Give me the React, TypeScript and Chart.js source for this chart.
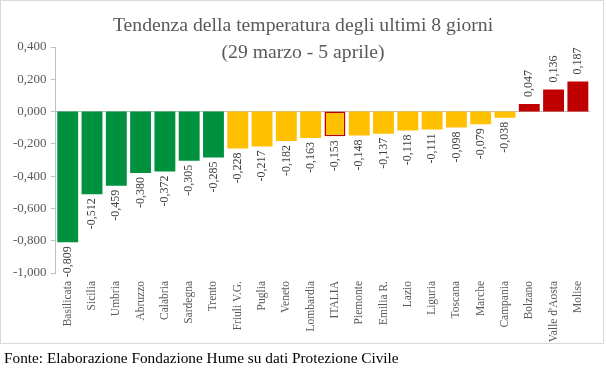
import React, { useEffect, useRef } from "react";
import { Chart, registerables } from "chart.js";

Chart.register(...registerables);

const categories = [
  "Basilicata", "Sicilia", "Umbria", "Abruzzo", "Calabria", "Sardegna", "Trento",
  "Friuli V.G.", "Puglia", "Veneto", "Lombardia", "ITALIA", "Piemonte", "Emilia R.",
  "Lazio", "Liguria", "Toscana", "Marche", "Campania", "Bolzano", "Valle d'Aosta", "Molise",
];
const values = [
  -0.809, -0.512, -0.459, -0.38, -0.372, -0.305, -0.285,
  -0.228, -0.217, -0.182, -0.163, -0.153, -0.148, -0.137,
  -0.118, -0.111, -0.098, -0.079, -0.038, 0.047, 0.136, 0.187,
];
const titleLines = ["Tendenza della temperatura degli ultimi 8 giorni", "(29 marzo - 5 aprile)"];
const sourceText = "Fonte: Elaborazione Fondazione Hume su dati Protezione Civile";
const highlighted = "ITALIA";
const yMin = -1.0;
const yMax = 0.4;
const yStep = 0.2;

const SERIF = "'Liberation Serif', 'Times New Roman', serif";
const GREEN = "#00913f";
const YELLOW = "#ffc000";
const RED = "#c00000";

function fmt(v: number): string {
  if (Math.abs(v) < 1e-9) v = 0;
  return v.toFixed(3).replace(".", ",");
}

function colorFor(v: number): string {
  if (v > 0) return RED;
  if (v < -0.25) return GREEN;
  return YELLOW;
}

const titlePlugin = {
  id: "titleOverlay",
  afterDraw(chart: any) {
    const ctx = chart.ctx;
    ctx.save();
    ctx.fillStyle = "#595959";
    ctx.font = `19.7px ${SERIF}`;
    ctx.textAlign = "center";
    ctx.textBaseline = "alphabetic";
    const cx = 302;
    ctx.fillText(titleLines[0], cx, 30);
    ctx.fillText(titleLines[1], cx, 57);
    ctx.restore();
  },
};

const valueLabelPlugin = {
  id: "valueLabels",
  afterDatasetsDraw(chart: any) {
    const ctx = chart.ctx;
    const meta = chart.getDatasetMeta(0);
    const data = chart.data.datasets[0].data as number[];
    ctx.save();
    ctx.fillStyle = "#404040";
    ctx.font = `12px ${SERIF}`;
    ctx.textBaseline = "middle";
    meta.data.forEach((bar: any, i: number) => {
      const v = data[i];
      const x = bar.x;
      const y = bar.y;
      ctx.save();
      if (v < 0) {
        ctx.translate(x, y + 4);
        ctx.rotate(-Math.PI / 2);
        ctx.textAlign = "right";
      } else {
        ctx.translate(x, y - 7);
        ctx.rotate(-Math.PI / 2);
        ctx.textAlign = "left";
      }
      ctx.fillText(fmt(v), 0, 0);
      ctx.restore();
    });
    ctx.restore();
  },
};

export default function App() {
  const ref = useRef<HTMLCanvasElement | null>(null);

  useEffect(() => {
    if (!ref.current) return;
    const chart = new Chart(ref.current, {
      type: "bar",
      data: {
        labels: categories,
        datasets: [
          {
            data: values,
            backgroundColor: values.map(colorFor),
            borderColor: categories.map((c) => (c === highlighted ? RED : "rgba(0,0,0,0)")),
            borderWidth: categories.map((c) => (c === highlighted ? 1.5 : 0)),
            borderSkipped: false,
            barPercentage: 0.86,
            categoryPercentage: 1,
          },
        ],
      },
      options: {
        responsive: false,
        animation: false,
        devicePixelRatio: 1,
        layout: { padding: { top: 46, left: 8, right: 13, bottom: 0 } },
        plugins: {
          legend: { display: false },
          title: { display: false },
          tooltip: { enabled: false },
        },
        scales: {
          x: {
            grid: { display: false, drawTicks: false, tickLength: 0 },
            border: { display: false },
            afterFit: (scale: any) => {
              scale.height = 78;
            },
            ticks: {
              autoSkip: false,
              maxRotation: 90,
              minRotation: 90,
              padding: 8,
              color: "#595959",
              font: { family: SERIF, size: 11.5 },
            },
          },
          y: {
            min: yMin,
            max: yMax,
            border: { display: true, color: "#bfbfbf", width: 1 },
            grid: {
              drawOnChartArea: true,
              drawTicks: true,
              tickLength: 5,
              tickColor: "#bfbfbf",
              color: (c: any) => (c.tick && Math.abs(c.tick.value) < 1e-9 ? "#bfbfbf" : "rgba(0,0,0,0)"),
            },
            ticks: {
              stepSize: yStep,
              padding: 4,
              color: "#595959",
              font: { family: SERIF, size: 13 },
              callback: (v: any) => fmt(Number(v)),
            },
          },
        },
      },
      plugins: [titlePlugin, valueLabelPlugin],
    });
    return () => chart.destroy();
  }, []);

  return (
    <div style={{ position: "fixed", left: 0, top: 0, width: 607, height: 375, background: "#ffffff" }}>
      <div
        style={{
          position: "absolute",
          left: 0,
          top: 0,
          width: 604,
          height: 344,
          border: "1px solid #d9d9d9",
          boxSizing: "border-box",
          background: "#ffffff",
        }}
      />
      <canvas
        ref={ref}
        width={602}
        height={350}
        style={{ display: "block", position: "absolute", left: 1, top: 1 }}
      />
      <div
        style={{
          position: "absolute",
          left: 4,
          top: 349,
          fontFamily: SERIF,
          fontSize: 15.3,
          color: "#000000",
          whiteSpace: "nowrap",
          lineHeight: "18px",
        }}
      >
        {sourceText}
      </div>
    </div>
  );
}
